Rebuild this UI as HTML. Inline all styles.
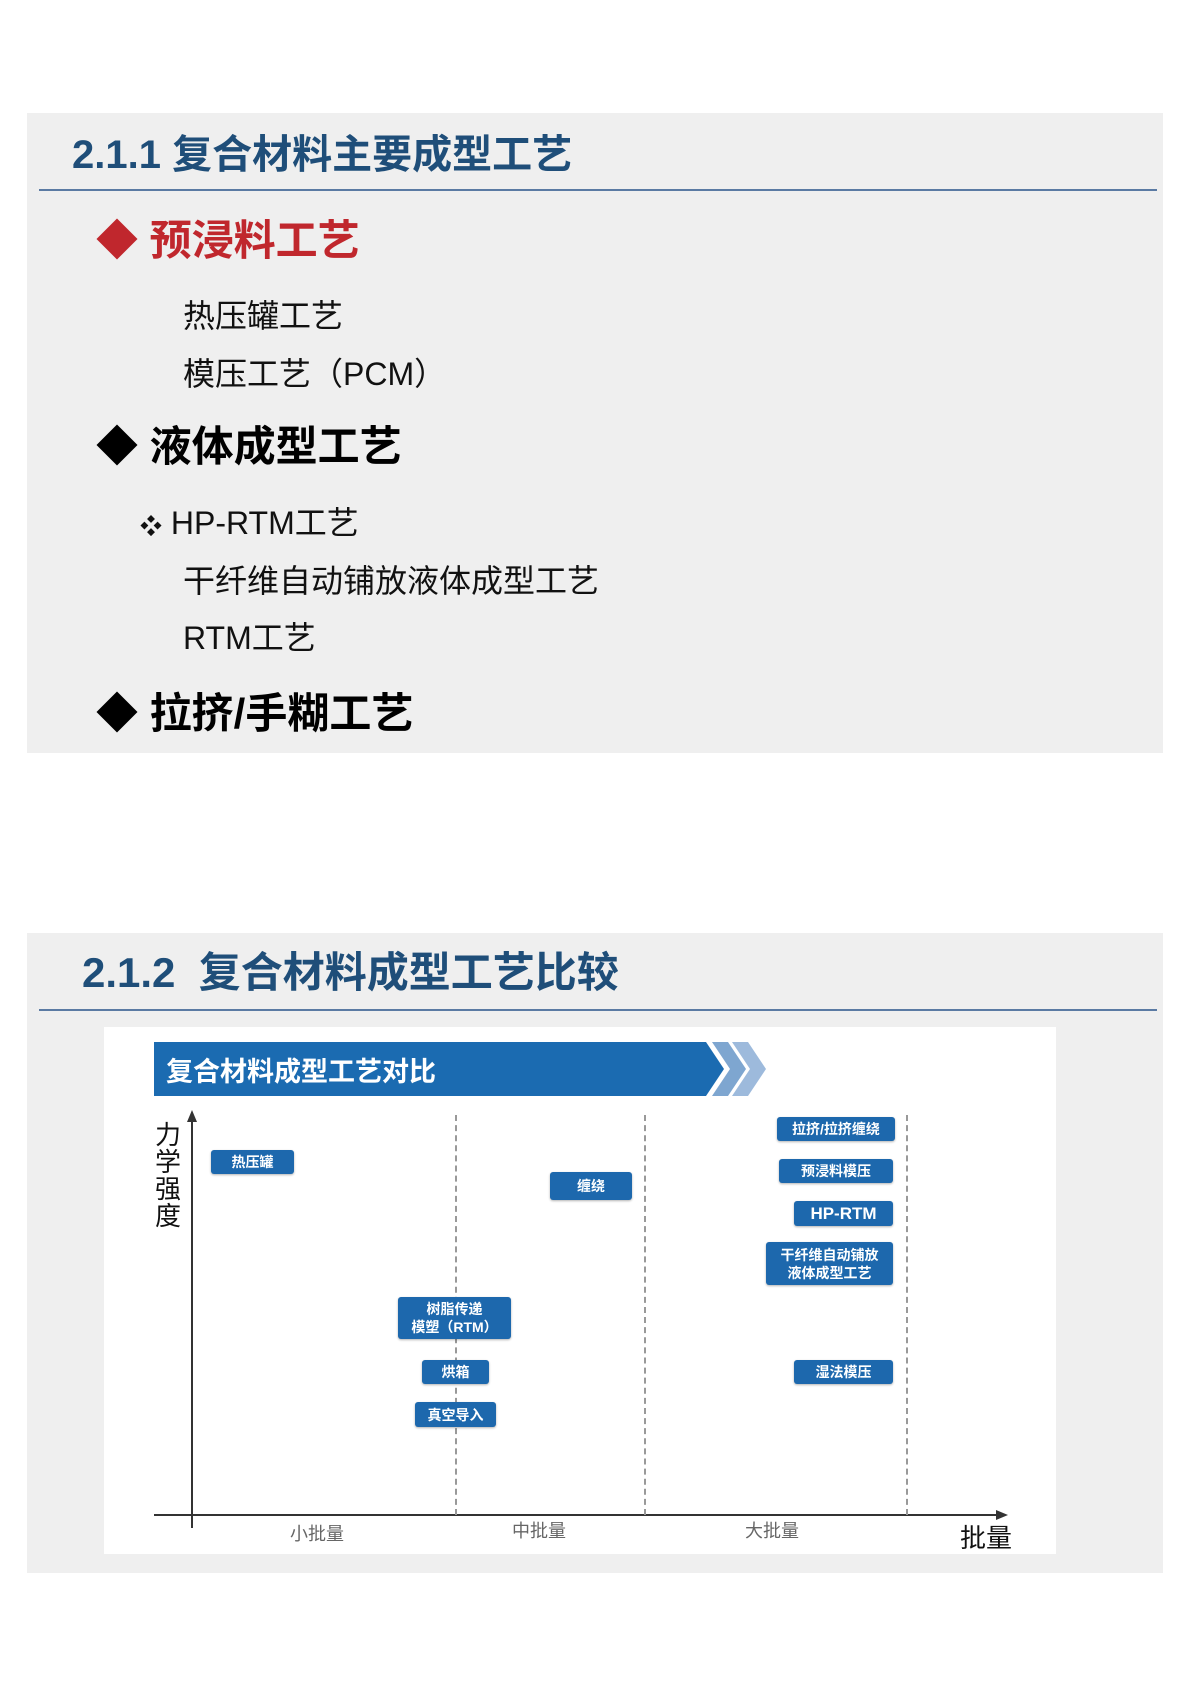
<!DOCTYPE html>
<html><head><meta charset="utf-8"><style>
body{margin:0;width:1190px;height:1683px;background:#fff;position:relative;overflow:hidden;font-family:"Liberation Sans","Noto Sans CJK SC",sans-serif;}
.a{position:absolute;white-space:nowrap;}
.panel{position:absolute;left:27px;width:1136px;background:#efefef;}
.rule{position:absolute;left:39px;width:1118px;height:2px;background:#5a7aa3;}
.t{color:#1f4e79;font-weight:bold;font-size:40px;}
.h{font-weight:bold;font-size:42px;color:#000;}
.s{font-size:32px;color:#111;}
.b{position:absolute;background:#1d68ad;color:#fff;font-weight:bold;font-size:14px;border-radius:3px;display:flex;align-items:center;justify-content:center;text-align:center;line-height:18px;box-shadow:0 1px 2px rgba(0,0,0,.3);}
.d{position:absolute;top:1115px;height:400px;border-left:2px dashed #999;}
</style></head><body>
<div class="panel" style="top:113px;height:640px"></div>
<div class="a t" style="left:72px;top:122px">2.1.1 复合材料主要成型工艺</div>
<div class="rule" style="top:189px"></div>
<div class="a h" style="left:96px;top:207px;color:#c0272d">◆ 预浸料工艺</div>
<div class="a s" style="left:183px;top:291px">热压罐工艺</div>
<div class="a s" style="left:183px;top:349px">模压工艺（PCM）</div>
<div class="a h" style="left:96px;top:413px">◆ 液体成型工艺</div>
<div class="a s" style="left:140px;top:498px"><span style="font-size:22px">❖</span> HP-RTM工艺</div>
<div class="a s" style="left:183px;top:556px">干纤维自动铺放液体成型工艺</div>
<div class="a s" style="left:183px;top:613px">RTM工艺</div>
<div class="a h" style="left:96px;top:680px">◆ 拉挤/手糊工艺</div>

<div class="panel" style="top:933px;height:640px"></div>
<div class="a t" style="left:82px;top:939px;font-size:42px">2.1.2 &nbsp;复合材料成型工艺比较</div>
<div class="rule" style="top:1009px"></div>
<div style="position:absolute;left:104px;top:1027px;width:952px;height:527px;background:#fff"></div>
<svg style="position:absolute;left:0;top:0" width="1190" height="1683">
<polygon points="154,1042 706,1042 724,1069 706,1096 154,1096" fill="#1b6bb1"/>
<polygon points="712,1042 728,1042 746,1069 728,1096 712,1096 730,1069" fill="#7ea6d0"/>
<polygon points="732,1042 748,1042 766,1069 748,1096 732,1096 750,1069" fill="#9dbadc"/>
<line x1="192" y1="1528" x2="192" y2="1118" stroke="#333" stroke-width="2"/>
<polygon points="192,1110 187,1122 197,1122" fill="#333"/>
<line x1="154" y1="1515" x2="1000" y2="1515" stroke="#333" stroke-width="2"/>
<polygon points="1008,1515 996,1510 996,1520" fill="#333"/>
</svg>
<div class="a" style="left:166px;top:1050px;color:#fff;font-weight:bold;font-size:27px">复合材料成型工艺对比</div>
<div class="d" style="left:455px"></div>
<div class="d" style="left:644px"></div>
<div class="d" style="left:906px"></div>
<div class="a" style="left:155px;top:1122px;font-size:26px;line-height:27px;width:28px;white-space:normal;color:#111">力学强度</div>
<div class="a" style="left:290px;top:1520px;font-size:18px;color:#666">小批量</div>
<div class="a" style="left:512px;top:1517px;font-size:18px;color:#666">中批量</div>
<div class="a" style="left:745px;top:1517px;font-size:18px;color:#666">大批量</div>
<div class="a" style="left:960px;top:1518px;font-size:26px;color:#111">批量</div>
<div class="b" style="left:211px;top:1150px;width:83px;height:24px">热压罐</div>
<div class="b" style="left:550px;top:1172px;width:82px;height:28px">缠绕</div>
<div class="b" style="left:777px;top:1117px;width:118px;height:24px">拉挤/拉挤缠绕</div>
<div class="b" style="left:779px;top:1159px;width:114px;height:24px">预浸料模压</div>
<div class="b" style="left:794px;top:1201px;width:99px;height:25px;font-size:17px">HP-RTM</div>
<div class="b" style="left:766px;top:1242px;width:127px;height:43px">干纤维自动铺放<br>液体成型工艺</div>
<div class="b" style="left:398px;top:1297px;width:113px;height:42px">树脂传递<br>模塑（RTM）</div>
<div class="b" style="left:422px;top:1360px;width:67px;height:24px">烘箱</div>
<div class="b" style="left:415px;top:1402px;width:81px;height:25px">真空导入</div>
<div class="b" style="left:794px;top:1360px;width:99px;height:24px">湿法模压</div>
</body></html>
